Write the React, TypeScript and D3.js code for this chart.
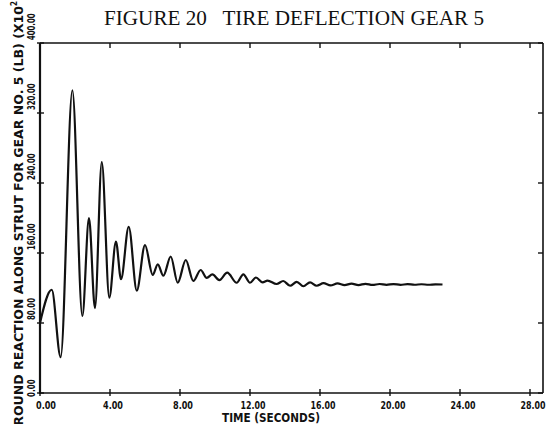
import React from "react";
import * as d3 from "d3";

// Strut ground reaction history (x10^2 lb) against time in seconds.
const timeSec = [
  0, 0.67, 1.18, 1.85, 2.42, 2.8, 3.14, 3.53, 3.96, 4.34, 4.63, 5.07, 5.53, 6.0,
  6.44, 6.73, 7.05, 7.47, 7.87, 8.33, 8.76, 9.18, 9.53, 9.85, 10.25, 10.7, 11.24,
  11.62, 12.0, 12.34, 12.72, 13.0, 13.52, 13.9, 14.29, 14.67, 15.05, 15.43, 15.81,
  16.2, 16.6, 17.0, 17.4, 17.8, 18.2, 18.6, 19.0, 19.4, 19.8, 20.2, 20.6, 21.0,
  21.4, 21.8, 22.2, 22.6, 23.0,
];
const reaction = [
  80, 118, 41, 346, 88, 200, 97, 264, 109, 173, 130, 190, 117, 169, 135, 147, 134,
  156, 126, 152, 128, 140.6, 131.5, 135.6, 129, 137.5, 126, 135.6, 126, 132, 126.5,
  128.5, 124.6, 128, 122.6, 127, 122, 126.5, 122.6, 125.5, 123, 125.2, 123.3, 125,
  123.4, 124.8, 123.5, 124.6, 123.6, 124.5, 123.6, 124.4, 123.7, 124.3, 123.7,
  124.2, 124,
];
const xTicks = [0, 4, 8, 12, 16, 20, 24, 28];
const yTicks = [0, 80, 160, 240, 320, 400];
const titleText = "FIGURE 20   TIRE DEFLECTION GEAR 5";
const xTitle = "TIME (SECONDS)";
const yTitle = "GROUND REACTION ALONG STRUT FOR GEAR NO. 5 (LB) (X10";
const yTitleExponent = "2";

const W = 548;
const H = 424;
const left = 40;
const right = 543;
const top = 43;
const bottom = 393;

export default function App() {
  const x = d3.scaleLinear().domain([0, 28]).range([left, 530]);
  const y = d3.scaleLinear().domain([0, 400]).range([bottom, top]);
  const fmt = d3.format(".2f");

  const pts = timeSec.map((t, i) => [t, reaction[i]] as [number, number]);
  const path = d3
    .line<[number, number]>()
    .x((d) => x(d[0]))
    .y((d) => y(d[1]))
    .curve(d3.curveMonotoneX)(pts) as string;

  const tickFont = "'DejaVu Sans Condensed', 'DejaVu Sans', sans-serif";

  return (
    <svg
      width={W}
      height={H}
      viewBox={`0 0 ${W} ${H}`}
      style={{ position: "absolute", left: 0, top: 0, background: "#fff" }}
    >
      <rect x={0} y={0} width={W} height={H} fill="#fff" />
      <text
        x={104}
        y={25}
        fontFamily="'Liberation Serif', serif"
        fontSize={21}
        textLength={380}
        lengthAdjust="spacingAndGlyphs"
        fill="#111"
        style={{ whiteSpace: "pre" }}
      >
        {titleText}
      </text>

      {/* frame */}
      <g stroke="#111" fill="none">
        <line x1={left} y1={top} x2={right} y2={top} strokeWidth={1.6} />
        <line x1={right} y1={top} x2={right} y2={bottom} strokeWidth={1.6} />
        <line x1={left} y1={bottom} x2={right} y2={bottom} strokeWidth={1.6} />
        <line x1={left} y1={top} x2={left} y2={bottom + 1} strokeWidth={2.2} />
      </g>

      {/* ticks: bottom and left cross the axis, top and right point inward */}
      <g stroke="#111" strokeWidth={1.4}>
        {xTicks.map((t) => (
          <g key={t}>
            <line x1={x(t)} x2={x(t)} y1={bottom - 4} y2={bottom + 3} />
            <line x1={x(t)} x2={x(t)} y1={top} y2={top + 5} />
          </g>
        ))}
        {yTicks.map((v) => (
          <g key={v}>
            <line x1={left - 3} x2={left + 4} y1={y(v)} y2={y(v)} />
            <line x1={right - 5} x2={right} y1={y(v)} y2={y(v)} />
          </g>
        ))}
      </g>

      {xTicks.map((t, i) => (
        <text
          key={t}
          x={i === 0 ? x(t) + 6 : x(t) + 3}
          y={409}
          textAnchor="middle"
          fontFamily={tickFont}
          fontWeight="bold"
          fontSize={11}
          textLength={fmt(t).length * 5}
          lengthAdjust="spacingAndGlyphs"
          fill="#111"
        >
          {fmt(t)}
        </text>
      ))}

      {yTicks.map((v, i) => {
        const yy = i === 0 ? y(v) + 4 : y(v) - 3;
        return (
          <text
            key={v}
            transform={`translate(35,${yy}) rotate(-90)`}
            textAnchor="start"
            fontFamily={tickFont}
            fontWeight="bold"
            fontSize={10}
            textLength={fmt(v).length * 4.4}
            lengthAdjust="spacingAndGlyphs"
            fill="#111"
          >
            {fmt(v)}
          </text>
        );
      })}

      <text
        x={222}
        y={422}
        fontFamily={tickFont}
        fontWeight="bold"
        fontSize={12}
        textLength={98}
        lengthAdjust="spacingAndGlyphs"
        fill="#111"
        style={{ whiteSpace: "pre" }}
      >
        {xTitle}
      </text>

      <text
        transform="translate(23,436) rotate(-90)"
        textAnchor="start"
        fontFamily={tickFont}
        fontWeight="bold"
        fontSize={12}
        textLength={430}
        lengthAdjust="spacingAndGlyphs"
        fill="#111"
        style={{ whiteSpace: "pre" }}
      >
        {yTitle}
      </text>
      <text
        transform="translate(17,6) rotate(-90)"
        textAnchor="start"
        fontFamily={tickFont}
        fontWeight="bold"
        fontSize={8}
        fill="#111"
      >
        {yTitleExponent}
      </text>

      <path d={path} fill="none" stroke="#111" strokeWidth={2.2} strokeLinejoin="round" />
    </svg>
  );
}
